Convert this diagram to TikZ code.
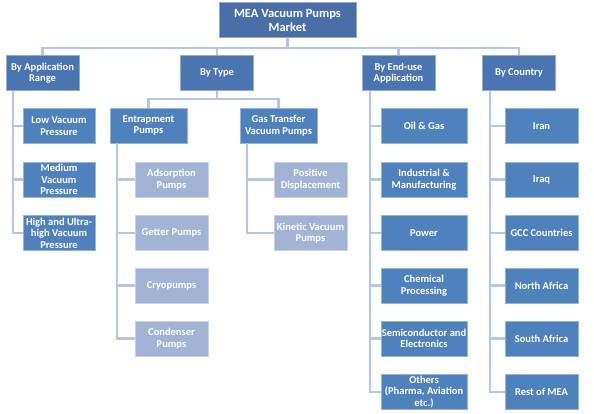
\documentclass[tikz,border=0pt]{standalone}
\usepackage{fontspec}
\setmainfont{Carlito}
\definecolor{rootc}{HTML}{4A6EA8}
\definecolor{levone}{HTML}{4A75B1}
\definecolor{levtwo}{HTML}{4F81BD}
\definecolor{light}{HTML}{A2B3D6}
\definecolor{conncol}{HTML}{B4C6E7}
\begin{document}
\begin{tikzpicture}[x=1pt,y=-1pt,
  box/.style={rectangle, inner sep=0pt, align=center, text=white,
    font=\bfseries\fontsize{10.5}{11.5}\selectfont, minimum height=35pt, line width=0.7pt},
  rootbox/.style={box, fill=rootc, draw=rootc!60!white, minimum width=137pt, font=\bfseries\fontsize{12.5}{14}\selectfont},
  onebox/.style={box, fill=levone, draw=levone!60!white, minimum width=73pt},
  twobox/.style={box, fill=levtwo, draw=levtwo!60!white, minimum width=73pt},
  lightbox/.style={box, fill=light, draw=light!60!white, minimum width=73pt},
  conn/.style={draw=conncol, line width=2.2pt}
]
\useasboundingbox (0,0) rectangle (594,413);
\fill[white] (0,0) rectangle (594,413);

\node[rootbox] (root) at (287.5,20) {MEA Vacuum Pumps\\Market};

\node[onebox] (app) at (42.5,73) {By Application\\Range};
\node[onebox] (type) at (217,73) {By Type};
\node[onebox] (end) at (398.5,73) {By End-use\\Application};
\node[onebox] (country) at (519,73) {By Country};

\node[twobox, minimum width=72pt] (low) at (59,126) {Low Vacuum\\Pressure};
\node[twobox, minimum width=72pt] (med) at (59,179.5) {Medium\\Vacuum\\Pressure};
\node[twobox, minimum width=72pt] (high) at (59,233) {High and Ultra-\\high Vacuum\\Pressure};

\node[twobox, minimum width=77pt] (entrap) at (148.5,125.5) {Entrapment\\Pumps};
\node[twobox, minimum width=77pt] (gas) at (278.5,125.5) {Gas Transfer\\Vacuum Pumps};

\node[lightbox] (ads) at (171.5,179.5) {Adsorption\\Pumps};
\node[lightbox] (get) at (171.5,233) {Getter Pumps};
\node[lightbox] (cryo) at (171.5,285.5) {Cryopumps};
\node[lightbox] (cond) at (171.5,338.5) {Condenser\\Pumps};

\node[lightbox] (pos) at (310.5,179.5) {Positive\\Displacement};
\node[lightbox] (kin) at (310.5,233) {Kinetic Vacuum\\Pumps};

\node[twobox, minimum width=86pt] (oil) at (424,126) {Oil \& Gas};
\node[twobox, minimum width=86pt] (ind) at (424,179.5) {Industrial \&\\Manufacturing};
\node[twobox, minimum width=86pt] (pow) at (424,233) {Power};
\node[twobox, minimum width=86pt] (chem) at (424,285.5) {Chemical\\Processing};
\node[twobox, minimum width=86pt] (semi) at (424,338.5) {Semiconductor and\\Electronics};
\node[twobox, minimum width=86pt] (oth) at (424,392) {Others\\(Pharma, Aviation\\etc.)};

\node[twobox] (iran) at (541.5,126) {Iran};
\node[twobox] (iraq) at (541.5,179.5) {Iraq};
\node[twobox] (gcc) at (541.5,233) {GCC Countries};
\node[twobox] (naf) at (541.5,285.5) {North Africa};
\node[twobox] (saf) at (541.5,338.5) {South Africa};
\node[twobox] (rest) at (541.5,392) {Rest of MEA};

% root to level one
\foreach \c in {app,type,end,country}
  \draw[conn] (root.south) -- ++(0,10) -| (\c.north);

% by type to subtypes
\foreach \c in {entrap,gas}
  \draw[conn] (type.south) -- ++(0,8) -| (\c.north);

% side connectors
\foreach \c in {low,med,high}
  \draw[conn] (app.south west) ++(7.5,0) |- (\c.west);
\foreach \c in {ads,get,cryo,cond}
  \draw[conn] (entrap.south west) ++(7.5,0) |- (\c.west);
\foreach \c in {pos,kin}
  \draw[conn] (gas.south west) ++(7.5,0) |- (\c.west);
\foreach \c in {oil,ind,pow,chem,semi,oth}
  \draw[conn] (end.south west) ++(8,0) |- (\c.west);
\foreach \c in {iran,iraq,gcc,naf,saf,rest}
  \draw[conn] (country.south west) ++(8,0) |- (\c.west);
\end{tikzpicture}
\end{document}
